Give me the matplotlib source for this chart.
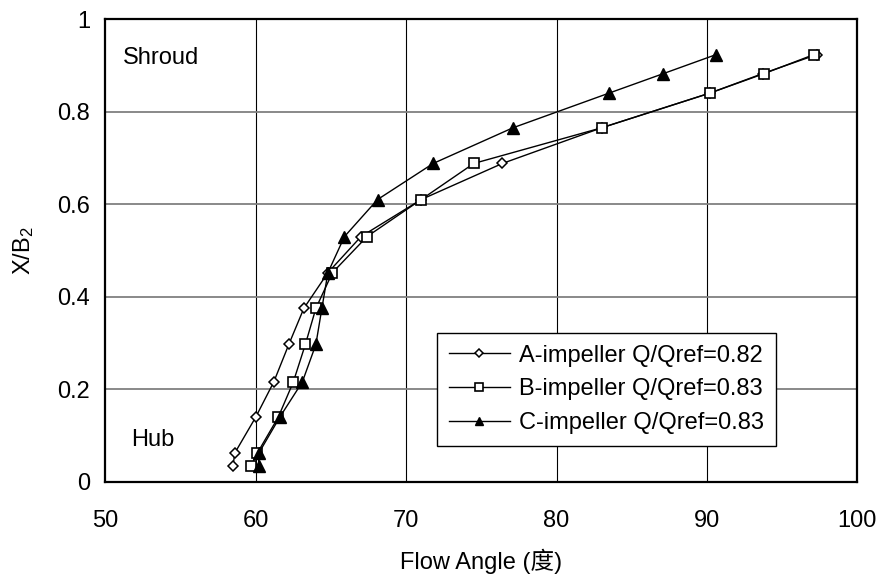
import matplotlib
matplotlib.use("Agg")
import matplotlib.pyplot as plt

plt.rcParams['font.family'] = ['Liberation Sans', 'Noto Sans CJK SC', 'DejaVu Sans']
plt.rcParams['mathtext.fontset'] = 'custom'
plt.rcParams['mathtext.rm'] = 'Liberation Sans'
plt.rcParams['mathtext.it'] = 'Liberation Sans'

y_levels = [0.035, 0.062, 0.14, 0.216, 0.297, 0.375, 0.452, 0.53, 0.61, 0.688, 0.765, 0.84, 0.882, 0.923]
angle_a = [58.5, 58.6, 60.0, 61.2, 62.2, 63.2, 64.8, 67.0, 71.0, 76.4, 83.0, 90.2, 93.7, 97.3]
angle_b = [59.7, 60.1, 61.5, 62.5, 63.3, 64.0, 65.1, 67.4, 71.0, 74.5, 83.0, 90.2, 93.8, 97.1]
angle_c = [60.2, 60.2, 61.6, 63.1, 64.0, 64.4, 64.8, 65.9, 68.1, 71.8, 77.1, 83.5, 87.1, 90.6]
labels = ['A-impeller Q/Qref=0.82', 'B-impeller Q/Qref=0.83', 'C-impeller Q/Qref=0.83']
x_ticks = [50, 60, 70, 80, 90, 100]
y_ticks = [0, 0.2, 0.4, 0.6, 0.8, 1]
y_tick_labels = ['0', '0.2', '0.4', '0.6', '0.8', '1']

FS = 17

fig = plt.figure(figsize=(8.82, 5.78), dpi=100)
ax = fig.add_axes([105.3/882, 1-482/578, (857.3-105.3)/882, (482-19)/578])

for xv in x_ticks[1:-1]:
    ax.axvline(xv, color='black', lw=0.8, zorder=1)
for yv in y_ticks[1:-1]:
    ax.axhline(yv, color='#808080', lw=1.3, zorder=1)

ax.plot(angle_a, y_levels, '-', color='black', lw=1.0, marker='D', ms=5.5,
        mfc='white', mec='black', mew=1.1, label=labels[0], zorder=3)
ax.plot(angle_b, y_levels, '-', color='black', lw=1.0, marker='s', ms=7.5,
        mfc='white', mec='black', mew=1.2, label=labels[1], zorder=4)
ax.plot(angle_c, y_levels, '-', color='black', lw=1.0, marker='^', ms=8,
        mfc='black', mec='black', label=labels[2], zorder=5)

ax.set_xlim(50, 100)
ax.set_ylim(0, 1)
ax.set_xticks(x_ticks)
ax.set_yticks(y_ticks)
ax.set_yticklabels(y_tick_labels)
ax.tick_params(length=0, labelsize=FS)
ax.tick_params(axis='x', pad=20)
ax.tick_params(axis='y', pad=11)
for s in ax.spines.values():
    s.set_linewidth(1.6)
    s.set_zorder(6)

ax.set_xlabel('Flow Angle (度)', fontsize=FS, labelpad=12)
ax.set_ylabel('X/B$_2$', fontsize=FS, labelpad=15)

ax.text(51.15, 0.915, 'Shroud', fontsize=FS, va='center', ha='left')
ax.text(51.75, 0.09, 'Hub', fontsize=FS, va='center', ha='left')

leg = ax.legend(loc='upper left', bbox_to_anchor=((436.7-105.3)/752, 1-(332.7-19)/463),
                fontsize=FS, frameon=True, fancybox=False, edgecolor='black',
                framealpha=1, borderpad=0.5, handlelength=2.6, handletextpad=0.4,
                markerscale=0.8, labelspacing=0.5, borderaxespad=0)
leg.get_frame().set_linewidth(1.0)
leg.set_zorder(7)

fig.savefig('out.png', dpi=100)
